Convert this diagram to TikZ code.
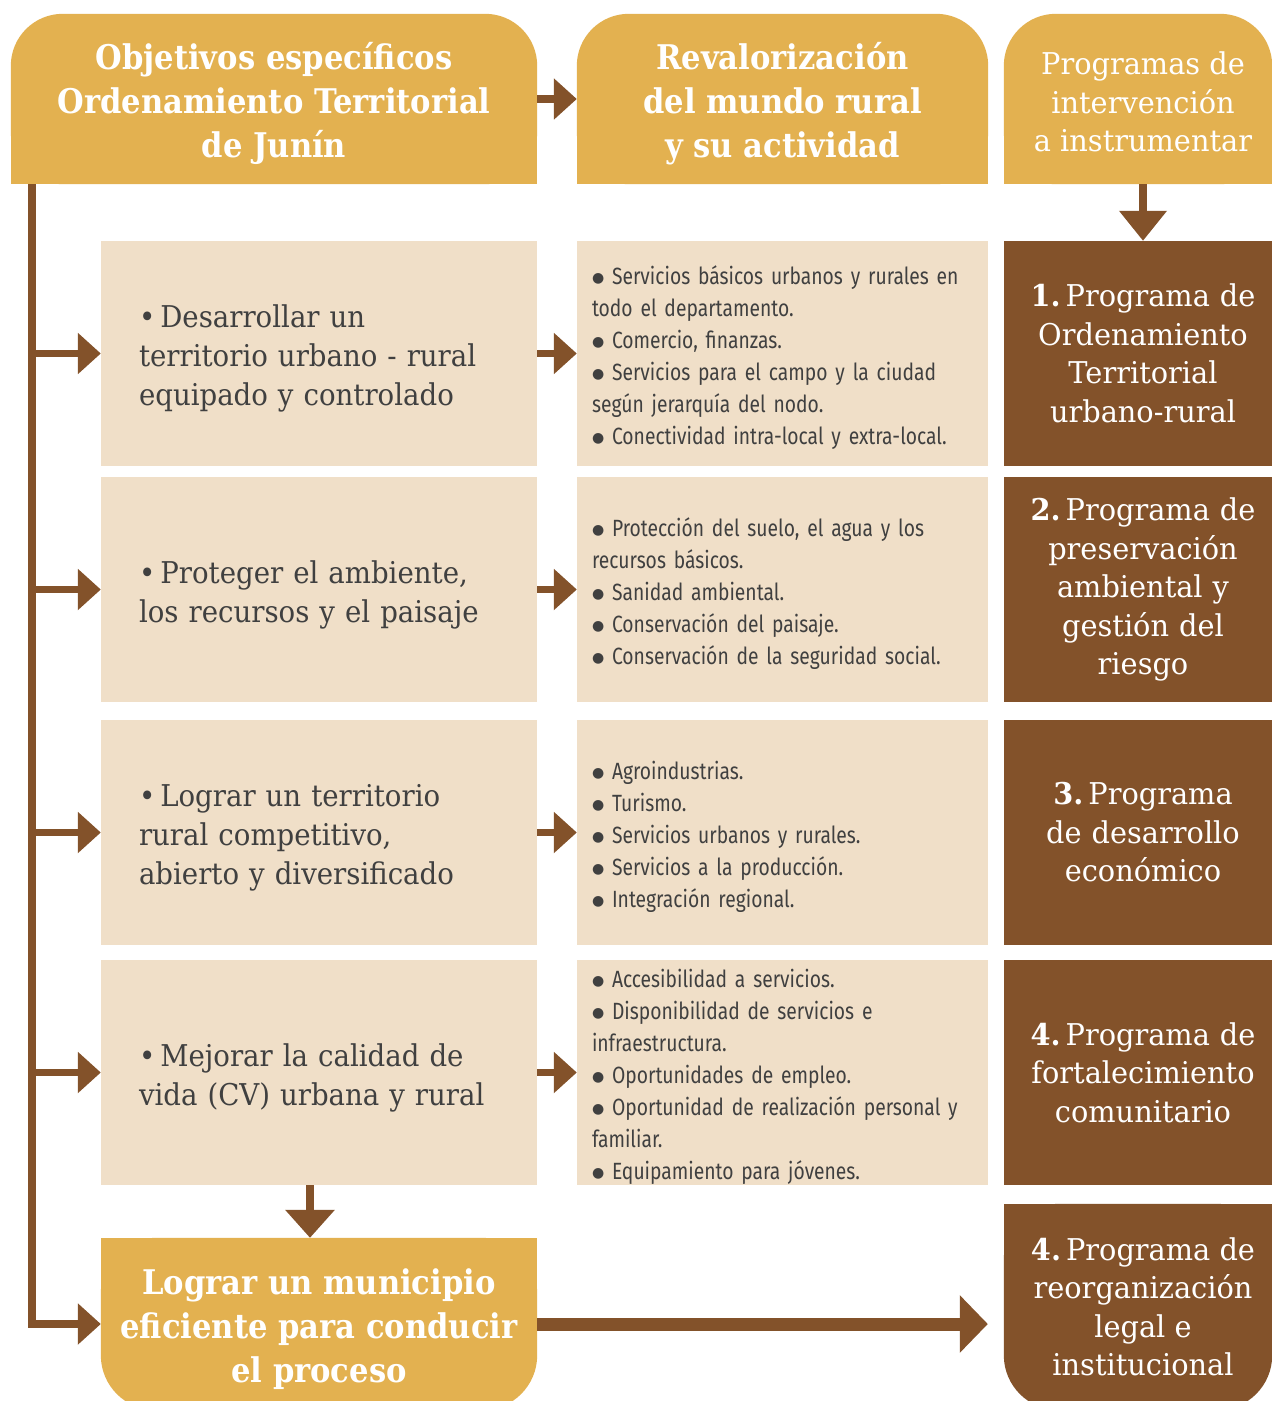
\documentclass[tikz,border=0pt]{standalone}
\usepackage{fontspec}
\newfontfamily\slabB[FakeStretch=0.9]{DejaVu Serif}
\newfontfamily\slabL[FakeStretch=0.92]{DejaVu Serif}
\newfontfamily\slabR[FakeStretch=0.96]{DejaVu Serif}
\newfontfamily\cond[FakeStretch=0.82]{Fira Sans}
\newfontfamily\dvs{DejaVu Sans}
\newcommand\mbul{{\dvs\fontsize{14}{14}\selectfont\raisebox{1.5pt}{●}}\ }
\usetikzlibrary{arrows.meta,backgrounds,calc}
\definecolor{gold}{HTML}{E3B150}
\definecolor{beige}{HTML}{F0DFC8}
\definecolor{brownc}{HTML}{83522A}
\definecolor{txtgrey}{HTML}{404040}
\tikzset{
  hdr/.style={minimum width=#1, minimum height=170pt, inner sep=0pt, text=white, align=center},
  leftbox/.style={fill=beige, minimum width=436pt, minimum height=225pt, inner sep=0pt, text width=360pt, align=left, text=txtgrey, font=\slabL\fontsize{30}{39}\selectfont},
  midbox/.style={fill=beige, minimum width=411pt, minimum height=225pt, inner sep=0pt, text width=381pt, align=left, text=txtgrey, font=\cond\fontsize{23.5}{32}\selectfont},
  progbox/.style={fill=brownc, minimum width=278pt, minimum height=225pt, inner sep=0pt, text width=262pt, align=center, text=white, font=\slabR\fontsize{30}{38.5}\selectfont},
  conn/.style={draw=brownc, line width=7.5pt, -{Triangle[length=23pt,width=40pt]}, color=brownc},
  bigconn/.style={draw=brownc, line width=13pt, -{Triangle[length=28pt,width=56pt]}, color=brownc},
}
\begin{document}
\begin{tikzpicture}[x=1pt,y=-1pt]
\useasboundingbox (0,0) rectangle (1272,1401);
% header nodes
\node[hdr=526pt, font=\slabB\bfseries\fontsize{34}{44}\selectfont] (h1) at (274,99) {\rule{0pt}{36pt}Objetivos específicos\\Ordenamiento Territorial\\de Junín};
\node[hdr=411pt, font=\slabB\bfseries\fontsize{34}{44}\selectfont] (h2) at (782.5,99) {\rule{0pt}{36pt}Revalorización\\del mundo rural\\y su actividad};
\node[hdr=278pt, font=\slabR\fontsize{30}{38.5}\selectfont] (h3) at (1143,99) {\rule{0pt}{29pt}Programas de\\intervención\\a instrumentar};
\begin{pgfonlayer}{background}
\foreach \h in {h1,h2}{
  \fill[gold, rounded corners=52pt] (\h.south west) rectangle (\h.north east);
  \fill[gold] (\h.south west) rectangle (\h.east);
}
\fill[gold, rounded corners=52pt] (h3.south west) rectangle ([xshift=-10pt]h3.north east);
\fill[gold] (h3.south west) rectangle ([xshift=-10pt]h3.east);
\end{pgfonlayer}
% rows
\node[leftbox] (l1) at (319,353.5) {\rule{0pt}{33pt}\textbullet\,Desarrollar un\\territorio urbano - rural\\equipado y controlado};
\node[leftbox] (l2) at (319,589.5) {\rule{0pt}{33pt}\textbullet\,Proteger el ambiente,\\los recursos y el paisaje};
\node[leftbox] (l3) at (319,832.5) {\rule{0pt}{33pt}\textbullet\,Lograr un territorio\\rural competitivo,\\abierto y diversificado};
\node[leftbox] (l4) at (319,1072.5) {\rule{0pt}{33pt}\textbullet\,Mejorar la calidad de\\vida (CV) urbana y rural};

\node[midbox] (m1) at (782.5,353.5) {\rule{0pt}{26pt}\mbul Servicios básicos urbanos y rurales en\\todo el departamento.\\\mbul Comercio, finanzas.\\\mbul Servicios para el campo y la ciudad\\según jerarquía del nodo.\\\mbul Conectividad intra-local y extra-local.};
\node[midbox] (m2) at (782.5,589.5) {\rule{0pt}{26pt}\mbul Protección del suelo, el agua y los\\recursos básicos.\\\mbul Sanidad ambiental.\\\mbul Conservación del paisaje.\\\mbul Conservación de la seguridad social.};
\node[midbox] (m3) at (782.5,832.5) {\rule{0pt}{26pt}\mbul Agroindustrias.\\\mbul Turismo.\\\mbul Servicios urbanos y rurales.\\\mbul Servicios a la producción.\\\mbul Integración regional.};
\node[midbox] (m4) at (782.5,1072.5) {\rule{0pt}{26pt}\mbul Accesibilidad a servicios.\\\mbul Disponibilidad de servicios e\\infraestructura.\\\mbul Oportunidades de empleo.\\\mbul Oportunidad de realización personal y\\familiar.\\\mbul Equipamiento para jóvenes.};

\node[progbox] (p1) at (1143,353.5) {{\bfseries 1.}\,Programa de\\Ordenamiento\\Territorial\\urbano-rural};
\node[progbox] (p2) at (1143,589.5) {{\bfseries 2.}\,Programa de\\preservación\\ambiental y\\gestión del\\riesgo};
\node[progbox] (p3) at (1143,832.5) {{\bfseries 3.}\,Programa\\de desarrollo\\económico};
\node[progbox] (p4) at (1143,1072.5) {{\bfseries 4.}\,Programa de\\fortalecimiento\\comunitario};

% bottom boxes
\node[minimum width=436pt, minimum height=172pt, inner sep=0pt, text=white, align=center, font=\slabB\bfseries\fontsize{34}{44}\selectfont] (bl) at (319,1324) {\rule{0pt}{36pt}Lograr un municipio\\eficiente para conducir\\el proceso};
\node[minimum width=278pt, minimum height=206pt, inner sep=0pt, text=white, align=center, font=\slabR\fontsize{30}{38.5}\selectfont] (p5) at (1143,1307) {{\bfseries 4.}\,Programa de\\reorganización\\legal e\\institucional};
\begin{pgfonlayer}{background}
\fill[gold, rounded corners=55pt] (bl.south west) rectangle (bl.north east);
\fill[gold] (bl.west) rectangle (bl.north east);
\fill[brownc, rounded corners=55pt] (p5.south west) rectangle ([xshift=-10pt]p5.north east);
\fill[brownc] (p5.west) rectangle ([xshift=-10pt]p5.north east);
\end{pgfonlayer}

% connectors
\coordinate (t0) at (32,184);
\draw[conn] (t0) |- (bl.west);
\foreach \r in {l1,l2,l3,l4}{
  \draw[conn] (t0 |- \r.west) -- (\r.west);
}
\draw[conn] (h1.east) -- (h2.west);
\draw[conn] (l1.east) -- (m1.west);
\draw[conn] (l2.east) -- (m2.west);
\draw[conn] (l3.east) -- (m3.west);
\draw[conn] (l4.east) -- (m4.west);
\draw[conn, -{Triangle[length=30pt,width=46pt]}] (h3.south) -- (p1.north);
\draw[conn, -{Triangle[length=28pt,width=48pt]}] ([xshift=-9pt]l4.south) -- ([xshift=-9pt]bl.north);
\draw[bigconn, shorten >=16pt] (bl.east) -- (bl.east -| p5.west);
\end{tikzpicture}
\end{document}
